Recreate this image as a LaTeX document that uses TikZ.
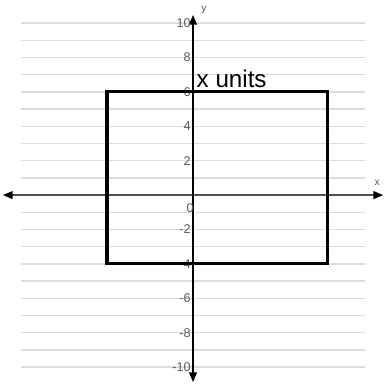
\documentclass[tikz,border=0pt]{standalone}
\usepackage{fontspec}
\setmainfont{Liberation Sans}
\usetikzlibrary{arrows.meta,positioning}
\definecolor{gridline}{HTML}{DCDCDC}
\definecolor{ticktext}{HTML}{5A5A5A}
\definecolor{xaxis}{HTML}{505050}

\begin{document}
\begin{tikzpicture}[x=0.5cm,y=0.5cm,
grid/.style={draw=gridline,line width=1.2pt},
axis/.style={{Triangle[length=8pt,width=6.5pt,color=black]}-{Triangle[length=8pt,width=6.5pt,color=black]},line width=1pt},
tick/.style={text=ticktext,font=\fontsize{10.5}{11}\selectfont,inner sep=1pt},
rectline/.style={draw=black,line width=2.6pt},
lbl/.style={font=\fontsize{8.5}{9}\selectfont,text=ticktext,inner sep=1pt}]
\useasboundingbox (-11.22,-10.93) rectangle (11.10,11.34);
% horizontal grid
\foreach \y in {-10,...,-1,1,2,...,10}
  \draw[grid] (-10,\y) -- (10,\y);
% axes
\coordinate (xl) at (-11.05,0);
\coordinate (xr) at (11.05,0);
\coordinate (yb) at (0,-10.87);
\coordinate (yt) at (0,10.47);
\draw[axis,draw=xaxis] (xl) -- (xr);
\draw[axis] (yb) -- (yt);
\node[lbl,anchor=south] (xlab) at (10.7,0.45) {x};
\node[lbl,anchor=west] (ylab) at (0.4,10.75) {y};
% tick labels
\foreach \y in {-10,-8,-6,-4,-2,2,4,6,8,10}
  \node[tick,anchor=east] (t\y) at (-0.05,\y) {\y};
\node[tick] (t0) at (-0.17,-0.76) {0};
% the rectangle
\draw[rectline] (-5,6) rectangle (7.8,-4);
\node[anchor=base west,inner sep=0pt,font=\fontsize{20}{21}\selectfont] (side) at (0.2,6.28) {x units};
\end{tikzpicture}
\end{document}
